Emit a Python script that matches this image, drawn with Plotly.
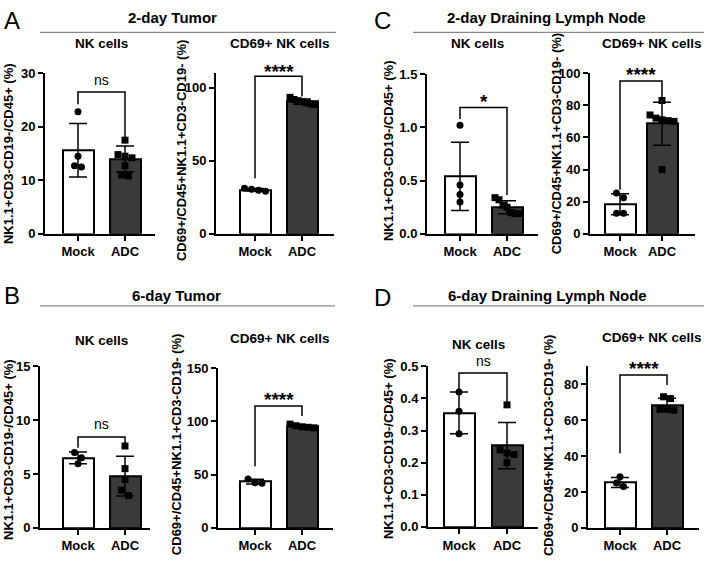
import numpy as np
import plotly.graph_objects as go

W, H = 712, 569

groups = ["Mock", "ADC"]
headers = ["2-day Tumor", "6-day Tumor", "2-day Draining Lymph Node", "6-day Draining Lymph Node"]
letters = ["A", "B", "C", "D"]
sub_titles = ["NK cells", "CD69+ NK cells"]
y_titles = ["NK1.1+CD3-CD19-/CD45+ (%)", "CD69+/CD45+NK1.1+CD3-CD19- (%)"]

# A: 2-day tumor
a_nk_mock = [22.8, 14.5, 12.7, 12.5]
a_nk_adc = [17.5, 14.8, 14.5, 14.2, 12.7, 11.0, 10.8]
a_nk_mean = [15.6, 14.0]
a_nk_sd = [5.0, 2.4]
a_cd69_mock = [31.2, 30.6, 29.8, 29.2]
a_cd69_adc = [93.5, 92.0, 91.2, 90.5, 89.8, 89.0, 88.5]
a_cd69_mean = [30.2, 90.6]
a_cd69_sd = [0.9, 1.8]

# B: 6-day tumor
b_nk_mock = [7.0, 6.5, 5.95]
b_nk_adc = [7.6, 5.5, 4.5, 3.5, 3.0]
b_nk_mean = [6.5, 4.8]
b_nk_sd = [0.55, 1.85]
b_cd69_mock = [46.0, 42.5, 42.0]
b_cd69_adc = [97.5, 96.0, 95.0, 94.5, 94.0]
b_cd69_mean = [43.5, 95.4]
b_cd69_sd = [2.2, 1.4]

# C: 2-day draining lymph node
c_nk_mock = [1.02, 0.46, 0.37, 0.30]
c_nk_adc = [0.34, 0.32, 0.27, 0.25, 0.20, 0.19, 0.19]
c_nk_mean = [0.54, 0.25]
c_nk_sd = [0.32, 0.06]
c_cd69_mock = [25.5, 22.4, 12.9, 12.9]
c_cd69_adc = [83, 74, 72, 71, 70.5, 70, 40]
c_cd69_mean = [18.4, 68.6]
c_cd69_sd = [6.5, 13.4]

# D: 6-day draining lymph node
d_nk_mock = [0.42, 0.36, 0.29]
d_nk_adc = [0.38, 0.24, 0.23, 0.225, 0.20]
d_nk_mean = [0.355, 0.253]
d_nk_sd = [0.065, 0.072]
d_cd69_mock = [28.5, 25.0, 23.0]
d_cd69_adc = [73, 72, 66, 66, 65.5]
d_cd69_mean = [25.3, 68.5]
d_cd69_sd = [2.8, 3.7]

# significance: label, bracket (left end, top, right end), label height
sig_text = ["ns", "****", "ns", "****", "*", "****", "ns", "****"]
brackets = [[24.2, 26.5, 18.1], [38, 108, 94], [7.43, 8.43, 7.83], [58, 114.4, 105],
            [1.08, 1.187, 0.366], [27.5, 95.2, 85], [0.426, 0.479, 0.39], [41.5, 85.2, 79.6]]
sig_y = [28.7, 114.7, 9.6, 125, 1.29, 102.4, 0.517, 91.3]

data = [
    (a_nk_mock, a_nk_adc, a_nk_mean, a_nk_sd),
    (a_cd69_mock, a_cd69_adc, a_cd69_mean, a_cd69_sd),
    (b_nk_mock, b_nk_adc, b_nk_mean, b_nk_sd),
    (b_cd69_mock, b_cd69_adc, b_cd69_mean, b_cd69_sd),
    (c_nk_mock, c_nk_adc, c_nk_mean, c_nk_sd),
    (c_cd69_mock, c_cd69_adc, c_cd69_mean, c_cd69_sd),
    (d_nk_mock, d_nk_adc, d_nk_mean, d_nk_sd),
    (d_cd69_mock, d_cd69_adc, d_cd69_mean, d_cd69_sd),
]

# pixel geometry: axis x, axis end x, mock centre, adc centre, top y, bottom y, ymax, tickvals, tickformat
geo = [
    (45, 155, 78, 125, 68, 233, 30, [0, 10, 20, 30], "d"),
    (216, 334, 255, 302, 68, 233, 110, [0, 50, 100], "d"),
    (40, 150, 78, 125, 369, 535, 15, [0, 5, 10, 15], "d"),
    (218, 333, 255, 302, 371, 535, 150, [0, 50, 100, 150], "d"),
    (427, 538, 460, 507, 69, 233, 1.5, [0, 0.5, 1.0, 1.5], ".1f"),
    (590, 695, 620, 662, 68, 233, 100, [0, 20, 40, 60, 80, 100], "d"),
    (428, 538, 459, 507, 369, 534, 0.5, [0, 0.1, 0.2, 0.3, 0.4, 0.5], ".1f"),
    (588, 699, 620, 667, 369, 535, 90, [0, 20, 40, 60, 80], "d"),
]

FONT = "Liberation Sans, Arial, Helvetica, sans-serif"


def swarm(vals, ppu_y, ppu_x, d=7.0, maxw=24.0):
    vals = np.asarray(vals, float)
    order = np.argsort(-vals)
    offs = np.zeros(len(vals))
    clusters, cur = [], [order[0]]
    for a, b in zip(order[:-1], order[1:]):
        if (vals[a] - vals[b]) * ppu_y < d * 0.8:
            cur.append(b)
        else:
            clusters.append(cur)
            cur = [b]
    clusters.append(cur)
    for c in clusters:
        n = len(c)
        step = min(d, maxw / (n - 1)) if n > 1 else 0
        for j, idx in enumerate(c):
            offs[idx] = (j - (n - 1) / 2) * step / ppu_x
    return offs


fig = go.Figure()
annotations = []
shapes = []

for i, ((mock, adc, mean, sd), g) in enumerate(zip(data, geo)):
    ax_x, end_x, mc, ac, top, bot, ymax, tv, tf = g
    n = i + 1
    xa = "x" if n == 1 else f"x{n}"
    ya = "y" if n == 1 else f"y{n}"
    s = ac - mc
    ppu_y = (bot - top) / ymax

    fig.add_trace(go.Bar(
        x=[0, 1], y=mean, width=31 / s, xaxis=xa, yaxis=ya,
        marker=dict(color=["white", "#3a3a3a"], line=dict(color="black", width=2)),
        error_y=dict(type="data", array=sd, color="black", thickness=1.5, width=9),
    ))
    for k, (pts, sym) in enumerate([(mock, "circle"), (adc, "square")]):
        offs = swarm(pts, ppu_y, s)
        fig.add_trace(go.Scatter(
            x=k + offs, y=pts, mode="markers", xaxis=xa, yaxis=ya,
            marker=dict(symbol=sym, size=7, color="black", line=dict(width=0)),
            cliponaxis=False,
        ))
    bl, bt, br = brackets[i]
    fig.add_trace(go.Scatter(
        x=[0, 0, 1, 1], y=[bl, bt, bt, br], mode="lines", xaxis=xa, yaxis=ya,
        line=dict(color="black", width=1.5), cliponaxis=False,
    ))
    # significance label placed in paper space (may sit above the axis range)
    is_star = "*" in sig_text[i]
    lab_px = bot - sig_y[i] * ppu_y
    annotations.append(dict(
        x=(mc + ac) / 2 / W, y=1 - lab_px / H, xref="paper", yref="paper",
        text=sig_text[i], showarrow=False, xanchor="center", yanchor="middle",
        yshift=-5 if is_star else 0,
        font=dict(family=FONT, size=19 if is_star else 14, color="black",
                  weight="bold" if is_star else "normal"),
    ))

    xkey = "xaxis" if n == 1 else f"xaxis{n}"
    ykey = "yaxis" if n == 1 else f"yaxis{n}"
    fig.update_layout({
        xkey: dict(domain=[ax_x / W, end_x / W], anchor=ya,
                   range=[(ax_x - mc) / s, (end_x - mc) / s],
                   tickvals=[0, 1], ticktext=groups, showline=True, linecolor="black",
                   linewidth=2, ticks="outside", ticklen=5, tickwidth=2, tickcolor="black",
                   showgrid=False, zeroline=False, fixedrange=True,
                   tickfont=dict(family=FONT, size=13, color="black", weight="bold")),
        ykey: dict(domain=[1 - bot / H, 1 - top / H], anchor=xa, range=[0, ymax],
                   tickvals=tv, tickformat=tf, showline=True, linecolor="black",
                   linewidth=2, ticks="outside", ticklen=5, tickwidth=2, tickcolor="black",
                   showgrid=False, zeroline=False, fixedrange=True,
                   tickfont=dict(family=FONT, size=13, color="black", weight="bold")),
    })

# headers, lines, letters
header_pos = [(172, 11, 40, 336, 26), (176, 296, 40, 335, 307),
              (546, 11, 413, 704, 26), (547, 296, 413, 704, 307)]
letter_pos = [(12, 14), (12, 296), (383, 14), (383, 298)]
for txt, (hx, hy, lx0, lx1, ly), lt, (px, py) in zip(headers, header_pos, letters, letter_pos):
    annotations.append(dict(x=hx / W, y=1 - hy / H, xref="paper", yref="paper", text=txt,
                            showarrow=False, xanchor="center", yanchor="middle",
                            font=dict(family=FONT, size=15, color="black", weight="bold")))
    shapes.append(dict(type="line", xref="paper", yref="paper", x0=lx0 / W, x1=lx1 / W,
                       y0=1 - ly / H, y1=1 - ly / H, line=dict(color="#6e6e6e", width=1)))
    annotations.append(dict(x=px / W, y=1 - py / H, xref="paper", yref="paper", text=lt,
                            showarrow=False, xanchor="center", yanchor="middle",
                            font=dict(family=FONT, size=24, color="black")))

# subplot titles and y titles
sub_pos = [(101, 38), (279, 38), (101, 343), (279, 340), (477, 38), (651, 38), (479, 347), (651, 339)]
ytitle_pos = [(8, 151), (181, 148), (8, 455), (176, 450), (388, 148), (556, 141), (388, 454), (548, 451)]
for i in range(8):
    sx, sy = sub_pos[i]
    annotations.append(dict(x=sx / W, y=1 - sy / H, xref="paper", yref="paper",
                            text=sub_titles[i % 2], showarrow=False, xanchor="center",
                            yanchor="middle",
                            font=dict(family=FONT, size=13.5, color="black", weight="bold")))
    tx, ty = ytitle_pos[i]
    annotations.append(dict(x=tx / W, y=1 - ty / H, xref="paper", yref="paper",
                            text=y_titles[i % 2], showarrow=False, textangle=-90,
                            xanchor="center", yanchor="middle",
                            font=dict(family=FONT, size=13, color="black", weight="bold")))

fig.update_layout(
    width=W, height=H, margin=dict(l=0, r=0, t=0, b=0),
    plot_bgcolor="white", paper_bgcolor="white", showlegend=False,
    annotations=annotations, shapes=shapes, bargap=0,
)

# drop the page's default body margin so the figure sits at the window origin
fig.write_html("out.html", config={"displayModeBar": False},
               post_script="document.body.style.margin='0';document.body.style.overflow='hidden';")
